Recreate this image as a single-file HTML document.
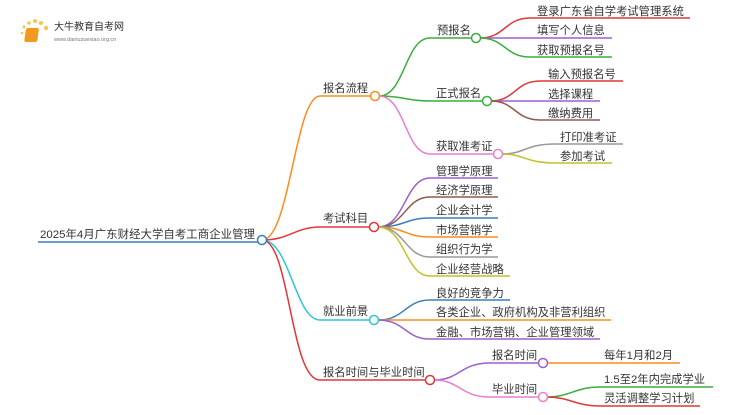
<!DOCTYPE html>
<html><head><meta charset="utf-8"><style>
html,body{margin:0;padding:0;background:#fff;}
svg text{font-family:"Liberation Sans","Noto Sans CJK SC",sans-serif;font-size:11.3px;fill:#333;}
</style></head><body>
<svg width="750" height="410" viewBox="0 0 750 410" xmlns="http://www.w3.org/2000/svg">
<g fill="none" stroke-width="1.5">
<path d="M38 242 H258" stroke="#3a7fc1"/>
<path d="M262 240 C290 240 295 96 320 96 H371" stroke="#fb8c1e"/>
<path d="M262 240 C290 240 295 227 320 227 H370" stroke="#e0363c"/>
<path d="M262 240 C290 240 295 320 320 320 H370" stroke="#2cc7d8"/>
<path d="M262 240 C290 240 290 380 320 380 H426" stroke="#e0363c"/>
<path d="M379 96 C405 96 405 38 430 38 H472" stroke="#3cae3c"/>
<path d="M379 96 C405 96 405 101 430 101 H483" stroke="#3cae3c"/>
<path d="M379 96 C405 96 405 154 430 154 H494" stroke="#e97fd0"/>
<path d="M480 38 C505 38 505 18 530 18 H690" stroke="#e0363c"/>
<path d="M480 38 H612" stroke="#9b5fd0"/>
<path d="M480 38 C505 38 505 57 530 57 H612" stroke="#3cae3c"/>
<path d="M491 101 C515 101 515 81 540 81 H623" stroke="#e0363c"/>
<path d="M491 101 H600" stroke="#9b5fd0"/>
<path d="M491 101 C515 101 515 120 540 120 H600" stroke="#8d5a4e"/>
<path d="M502 154 C525 154 525 144 555 144 H623" stroke="#999"/>
<path d="M502 154 C525 154 525 163 555 163 H612" stroke="#c5c02a"/>
<path d="M378 227 C405 227 405 178 430 178 H498" stroke="#9b5fd0"/>
<path d="M378 227 C405 227 405 197 430 197 H498" stroke="#8d5a4e"/>
<path d="M378 227 C405 227 405 218 430 218 H498" stroke="#3a7fc1"/>
<path d="M378 227 C405 227 405 237 430 237 H498" stroke="#fb8c1e"/>
<path d="M378 227 C405 227 405 257 430 257 H498" stroke="#999"/>
<path d="M378 227 C405 227 405 276 430 276 H510" stroke="#c5c02a"/>
<path d="M378 320 C405 320 405 300 430 300 H510" stroke="#3a7fc1"/>
<path d="M378 320 H611" stroke="#fb8c1e"/>
<path d="M378 320 C405 320 405 339 430 339 H600" stroke="#9b5fd0"/>
<path d="M434 380 C460 380 460 363 490 363 H539" stroke="#9b5fd0"/>
<path d="M434 380 C460 380 460 397 490 397 H539" stroke="#e97fd0"/>
<path d="M547 363 H680" stroke="#fb8c1e"/>
<path d="M547 397 C570 397 575 387 600 387 H713" stroke="#3cae3c"/>
<path d="M547 397 C570 397 575 406 600 406 H700" stroke="#e0363c"/>
</g>
<g fill="#fff" stroke-width="1.5">
<circle cx="262" cy="240" r="4.5" stroke="#3a7fc1"/>
<circle cx="375" cy="96" r="4.5" stroke="#fb8c1e"/>
<circle cx="374" cy="227" r="4.5" stroke="#e0363c"/>
<circle cx="374" cy="320" r="4.5" stroke="#2cc7d8"/>
<circle cx="430" cy="380" r="4.5" stroke="#e0363c"/>
<circle cx="476" cy="38" r="4.5" stroke="#3cae3c"/>
<circle cx="487" cy="101" r="4.5" stroke="#3cae3c"/>
<circle cx="498" cy="154" r="4.5" stroke="#e97fd0"/>
<circle cx="543" cy="363" r="4.5" stroke="#9b5fd0"/>
<circle cx="543" cy="397" r="4.5" stroke="#e97fd0"/>
</g>
<text x="40" y="238" textLength="215" lengthAdjust="spacingAndGlyphs">2025年4月广东财经大学自考工商企业管理</text>
<text x="323" y="92">报名流程</text>
<text x="323" y="222">考试科目</text>
<text x="323" y="315">就业前景</text>
<text x="323" y="376">报名时间与毕业时间</text>
<text x="437" y="34">预报名</text>
<text x="436" y="97">正式报名</text>
<text x="436" y="150">获取准考证</text>
<text x="537" y="15">登录广东省自学考试管理系统</text>
<text x="537" y="34">填写个人信息</text>
<text x="537" y="54">获取预报名号</text>
<text x="548" y="78">输入预报名号</text>
<text x="548" y="98">选择课程</text>
<text x="548" y="117">缴纳费用</text>
<text x="560" y="141">打印准考证</text>
<text x="560" y="160">参加考试</text>
<text x="436" y="175">管理学原理</text>
<text x="436" y="194">经济学原理</text>
<text x="436" y="214">企业会计学</text>
<text x="436" y="234">市场营销学</text>
<text x="436" y="253">组织行为学</text>
<text x="436" y="273">企业经营战略</text>
<text x="436" y="297">良好的竞争力</text>
<text x="436" y="316">各类企业、政府机构及非营利组织</text>
<text x="436" y="336">金融、市场营销、企业管理领域</text>
<text x="492" y="359">报名时间</text>
<text x="492" y="393">毕业时间</text>
<text x="604" y="359">每年1月和2月</text>
<text x="604" y="383">1.5至2年内完成学业</text>
<text x="604" y="402">灵活调整学习计划</text>
<g>
<circle cx="24" cy="27" r="1.5" fill="#f7c64a"/><circle cx="29" cy="23" r="1.8" fill="#f7c64a"/>
<circle cx="35" cy="21" r="2" fill="#f7c64a"/><circle cx="41" cy="23" r="2" fill="#f7c64a"/>
<circle cx="46" cy="28" r="2.2" fill="#f7c64a"/><circle cx="22" cy="33" r="1.3" fill="#f7c64a"/>
<rect x="30" y="28" width="13" height="14" rx="2" fill="#f39a1e" transform="skewX(-8)"/>
<text x="54" y="30" style="font-size:10px;fill:#333">大牛教育自考网</text>
<text x="54" y="41" style="font-size:5.5px;fill:#777">www.daniuzuexiao.org.cn</text>
</g>
</svg>
</body></html>
